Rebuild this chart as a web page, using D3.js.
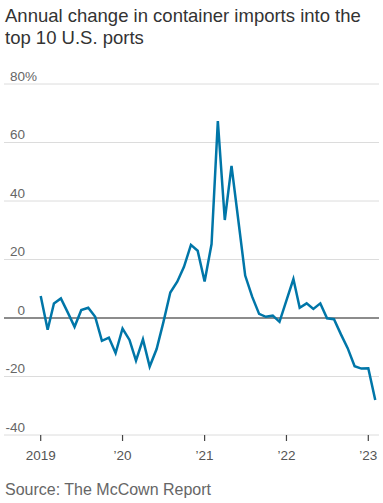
<!DOCTYPE html>
<html>
<head>
<meta charset="utf-8">
<script src="https://cdn.jsdelivr.net/npm/d3@7"></script>
<style>
  html, body { margin: 0; padding: 0; background: #fff; }
  svg { display: block; font-family: "Liberation Sans", Arial, sans-serif; }
</style>
</head>
<body>
<svg id="chart" width="383" height="503"></svg>
<script>
// ---- Data ----
const titleLines = ["Annual change in container imports into the", "top 10 U.S. ports"];
const sourceText = "Source: The McCown Report";
const months = [
  "2019-01","2019-02","2019-03","2019-04","2019-05","2019-06","2019-07","2019-08","2019-09","2019-10","2019-11","2019-12",
  "2020-01","2020-02","2020-03","2020-04","2020-05","2020-06","2020-07","2020-08","2020-09","2020-10","2020-11","2020-12",
  "2021-01","2021-02","2021-03","2021-04","2021-05","2021-06","2021-07","2021-08","2021-09","2021-10","2021-11","2021-12",
  "2022-01","2022-02","2022-03","2022-04","2022-05","2022-06","2022-07","2022-08","2022-09","2022-10","2022-11","2022-12",
  "2023-01","2023-02"
];
const changePct = [
  7.5, -4, 5, 6.7, 2, -3, 2.7, 3.5, 0.4, -7.8, -6.7, -12,
  -3.6, -7.5, -14.6, -7.3, -16.6, -10.6, -1.5, 8.7, 12.4, 17.5, 25, 23,
  12.5, 25.3, 67.3, 33.5, 52, 33, 14.5, 7.3, 1.4, 0.4, 0.8, -1.3,
  6, 13.3, 3.5, 5, 3.1, 5, -0.1, -0.4, -5.6, -10.3, -16.5, -17.3,
  -17.2, -28
];
const yTicks = [80, 60, 40, 20, 0, -20, -40];
const xTickYears = [2019, 2020, 2021, 2022, 2023];
const xTickLabels = ["2019", "\u201920", "\u201921", "\u201922", "\u201923"];

// ---- Chart ----
const svg = d3.select("#chart");
const parse = d3.timeParse("%Y-%m");
const data = months.map((m, i) => ({ date: parse(m), value: changePct[i] }));

const x = d3.scaleTime()
  .domain([new Date(2019, 0, 1), new Date(2023, 0, 1)])
  .range([40.7, 368.3]);
const y = d3.scaleLinear().domain([-40, 80]).range([435, 84]);

const gridLeft = 4, gridRight = 379;

// title
svg.append("g").selectAll("text").data(titleLines).join("text")
  .attr("x", 5).attr("y", (d, i) => 22 + i * 22)
  .attr("fill", "#333").attr("font-size", "18.5px")
  .text(d => d);

// gridlines
svg.append("g").selectAll("line").data(yTicks.filter(d => d !== 0)).join("line")
  .attr("x1", gridLeft).attr("x2", gridRight)
  .attr("y1", d => y(d)).attr("y2", d => y(d))
  .attr("stroke", "#dcdcdc").attr("stroke-width", 1);

// y labels
const yl = svg.append("g").attr("fill", "#666").attr("font-size", "13.5px");
yl.selectAll("text").data(yTicks).join("text")
  .attr("x", 25).attr("y", d => y(d) - 3.5)
  .attr("text-anchor", "end")
  .text(d => String(d));
yl.append("text").attr("x", 25).attr("y", y(yTicks[0]) - 3.5).text("%");

// x axis ticks
const xg = svg.append("g");
xg.selectAll("line").data(xTickYears).join("line")
  .attr("x1", d => x(new Date(d, 0, 1))).attr("x2", d => x(new Date(d, 0, 1)))
  .attr("y1", y(-40)).attr("y2", y(-40) + 6)
  .attr("stroke", "#444").attr("stroke-width", 1.2);
xg.selectAll("text").data(xTickYears).join("text")
  .attr("x", d => x(new Date(d, 0, 1))).attr("y", 460)
  .attr("text-anchor", "middle")
  .attr("fill", "#555").attr("font-size", "13.5px")
  .text((d, i) => xTickLabels[i]);

// zero line
svg.append("line")
  .attr("x1", gridLeft).attr("x2", gridRight)
  .attr("y1", y(0)).attr("y2", y(0))
  .attr("stroke", "#666").attr("stroke-width", 1.5);

// data line
const line = d3.line().x(d => x(d.date)).y(d => y(d.value));
svg.append("path").datum(data)
  .attr("d", line)
  .attr("fill", "none")
  .attr("stroke", "#0076a8")
  .attr("stroke-width", 2.5)
  .attr("stroke-linejoin", "miter")
  .attr("stroke-miterlimit", 4);

// source
svg.append("text")
  .attr("x", 5).attr("y", 495)
  .attr("fill", "#666").attr("font-size", "16px")
  .text(sourceText);
</script>
</body>
</html>
